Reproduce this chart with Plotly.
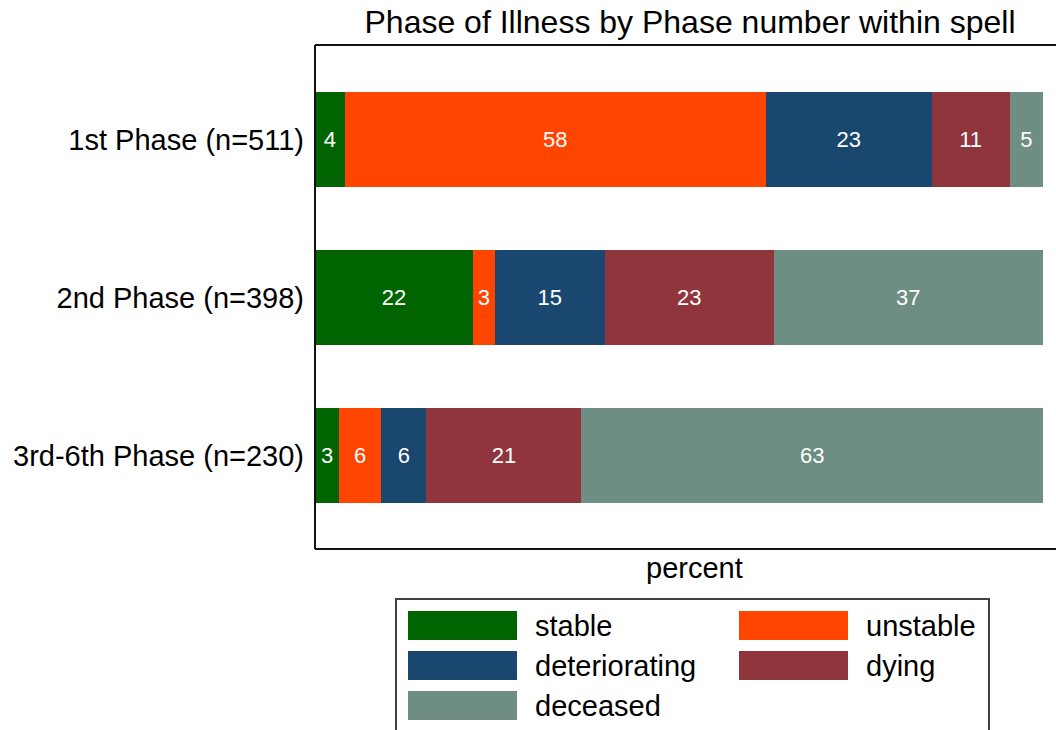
import plotly.graph_objects as go

# ---- data ----
categories = ["1st Phase (n=511)", "2nd Phase (n=398)", "3rd-6th Phase (n=230)"]
series_names = ["stable", "unstable", "deteriorating", "dying", "deceased"]
series_colors = ["#006400", "#FF4500", "#1A476F", "#90353B", "#6E8E84"]
stable = [4.1, 21.7, 3.3]
unstable = [57.8, 3.0, 5.8]
deteriorating = [22.8, 15.1, 6.2]
dying = [10.7, 23.2, 21.3]
deceased = [4.6, 37.0, 63.4]
series_values = [stable, unstable, deteriorating, dying, deceased]

W, H = 1056, 730
L, R, T, B = 315, 1056, 45, 549   # plot area in px
FONT = "Liberation Sans, Arial, sans-serif"

def px(x):
    return (x - L) / (R - L)

def py(y):
    return (B - y) / (B - T)

fig = go.Figure()
for name, color, vals in zip(series_names, series_colors, series_values):
    fig.add_trace(go.Bar(
        y=categories, x=vals, name=name, orientation="h",
        marker=dict(color=color, line=dict(width=0)),
        width=0.6,
        texttemplate="%{x:.0f}", textposition="inside",
        insidetextanchor="middle",
        textfont=dict(color="white", size=22, family=FONT),
        showlegend=False,
    ))

shapes = []
lc = "#111111"
shapes.append(dict(type="line", xref="paper", yref="paper", x0=0, x1=0, y0=0, y1=1, line=dict(color=lc, width=2)))
shapes.append(dict(type="line", xref="paper", yref="paper", x0=0, x1=1.01, y0=1, y1=1, line=dict(color=lc, width=2)))
shapes.append(dict(type="line", xref="paper", yref="paper", x0=0, x1=1.01, y0=0, y1=0, line=dict(color=lc, width=2)))

annotations = []
# manual legend
shapes.append(dict(type="rect", xref="paper", yref="paper", x0=px(396), x1=px(989), y0=py(599), y1=py(745),
                   line=dict(color="#404040", width=2), fillcolor="rgba(0,0,0,0)"))
col_sw = [408, 739]
col_tx = [533, 864]
row_y = [611, 651, 691]
for i, (name, color) in enumerate(zip(series_names, series_colors)):
    c, r = i % 2, i // 2
    shapes.append(dict(type="rect", xref="paper", yref="paper",
                       x0=px(col_sw[c]), x1=px(col_sw[c] + 109),
                       y0=py(row_y[r]), y1=py(row_y[r] + 29),
                       line=dict(width=0), fillcolor=color))
    annotations.append(dict(xref="paper", yref="paper", x=px(col_tx[c]), y=py(row_y[r] + 15),
                            text=name, showarrow=False, xanchor="left", yanchor="middle",
                            font=dict(size=29, family=FONT, color="black")))

annotations.append(dict(xref="paper", yref="paper", x=px(694), y=py(568), text="percent",
                        showarrow=False, xanchor="center", yanchor="middle",
                        font=dict(size=29, family=FONT, color="black")))

fig.update_layout(
    width=W, height=H,
    margin=dict(l=L, r=W - R, t=T, b=H - B),
    barmode="stack",
    plot_bgcolor="white", paper_bgcolor="white",
    title=dict(text="Phase of Illness by Phase number within spell", x=px(690), xref="paper",
               y=1 - 22 / H, yanchor="middle", xanchor="center",
               font=dict(size=32, family=FONT, color="black")),
    xaxis=dict(range=[0, 100 * (R - L) / (1043 - L)], showticklabels=False, showgrid=False,
               zeroline=False, showline=False, ticks=""),
    yaxis=dict(autorange=False, range=[2.59, -0.6], showgrid=False, zeroline=False, showline=False,
               ticks="", ticklabelstandoff=10,
               tickfont=dict(size=29, family=FONT, color="black")),
    shapes=shapes, annotations=annotations,
    font=dict(family=FONT),
)

fig.write_html("out.html", config={"displayModeBar": False},
               post_script="document.body.style.margin='0';document.body.style.overflow='hidden';")
